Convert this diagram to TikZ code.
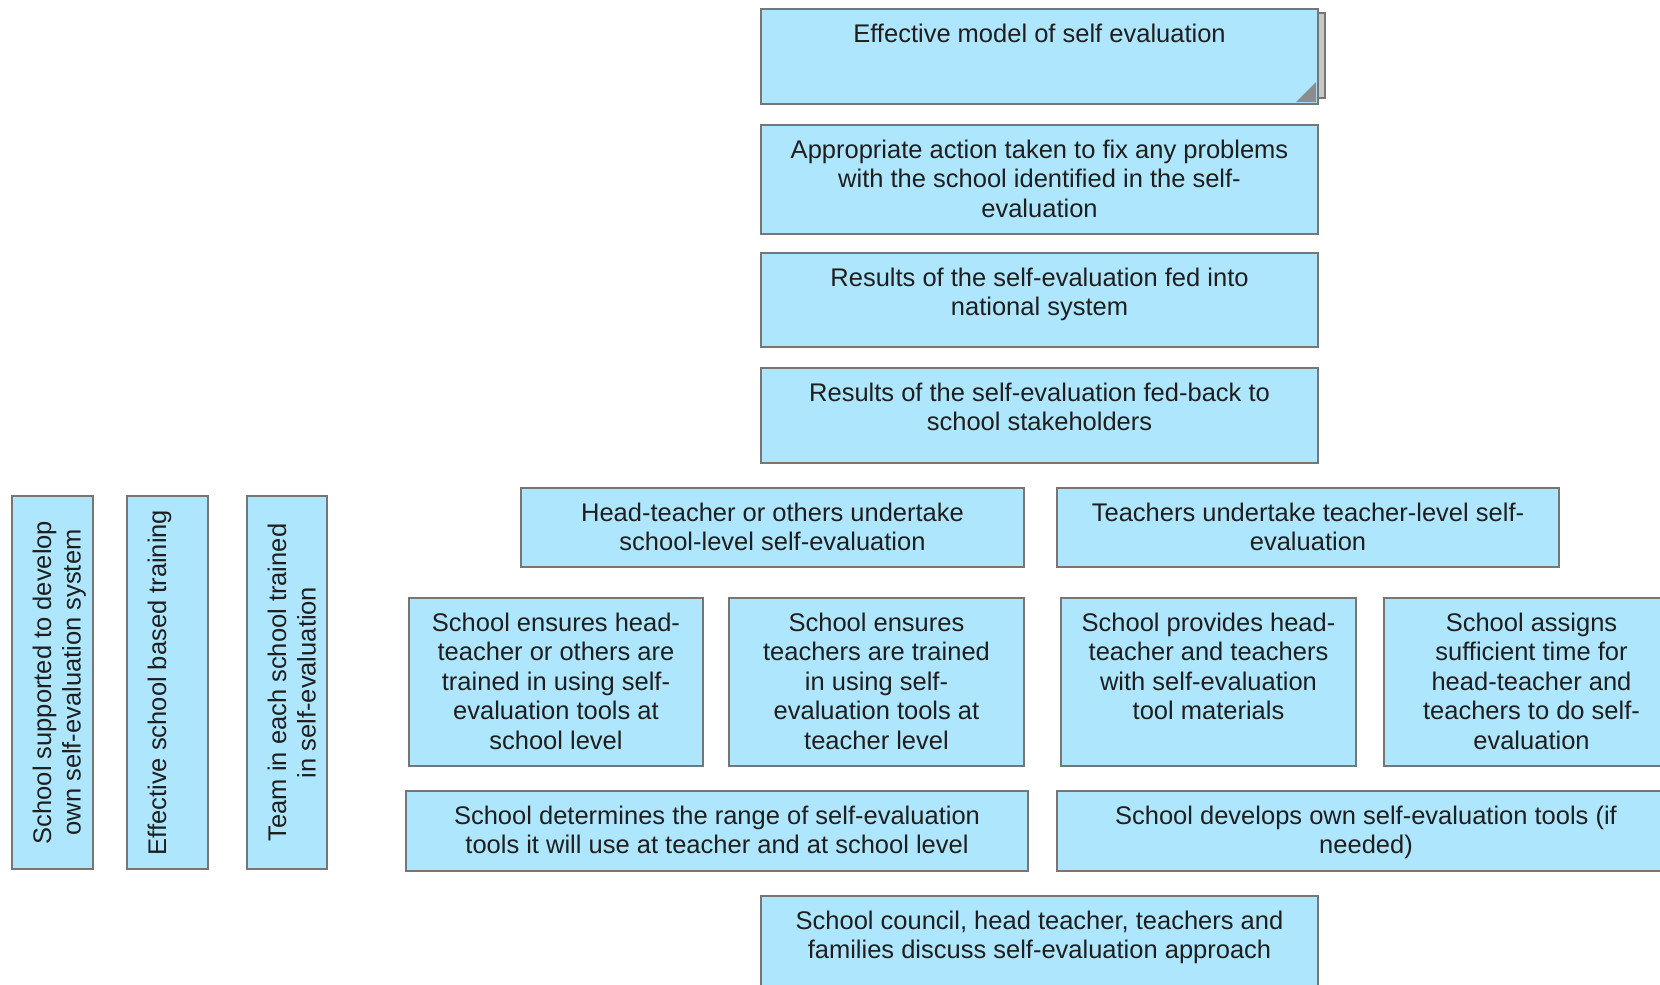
\documentclass[tikz,border=0pt]{standalone}
\usepackage{fontspec}
\setmainfont{Liberation Sans}
\definecolor{boxfill}{RGB}{174,230,254}
\definecolor{bordercol}{RGB}{118,118,118}
\definecolor{txtcol}{RGB}{30,30,30}
\definecolor{shadowfill}{RGB}{200,200,200}
\definecolor{foldcol}{RGB}{140,140,140}
\newcommand{\bxt}[4]{\parbox[t][#2][t]{#1}{\centering\rule{0pt}{#3}#4}}
\tikzset{
  box/.style={draw=bordercol, line width=2bp, fill=boxfill, inner sep=0pt,
    anchor=north west, text=txtcol, font=\fontsize{25.5bp}{29.6bp}\selectfont},
}
\begin{document}
\begin{tikzpicture}[x=1bp,y=-1bp]
\useasboundingbox (0,0) rectangle (1660,984);
\clip (0,0) rectangle (1660,984);
\fill[white] (0,0) rectangle (1660,984);
% shadow behind top box
\draw[draw=bordercol, line width=1.5bp, fill=shadowfill] (1300,13) rectangle (1325,98);
\node[box] (top) at (760,8) {\bxt{557bp}{95bp}{33bp}{Effective model of self evaluation}};
\fill[foldcol] (top.south east) ++(-3,-3) coordinate (f1) -- ++(-20,0) -- ++(20,-20) -- cycle;
\node[box] (act) at (760,124) {\bxt{557bp}{109bp}{33bp}{Appropriate action taken to fix any problems\\with the school identified in the self-\\evaluation}};
\node[box] (nat) at (760,252) {\bxt{557bp}{94bp}{33bp}{Results of the self-evaluation fed into\\national system}};
\node[box] (fb) at (760,367) {\bxt{557bp}{95bp}{33bp}{Results of the self-evaluation fed-back to\\school stakeholders}};
\node[box] (head) at (520,487) {\bxt{503bp}{79bp}{33bp}{Head-teacher or others undertake\\school-level self-evaluation}};
\node[box] (teach) at (1056,487) {\bxt{502bp}{79bp}{33bp}{Teachers undertake teacher-level self-\\evaluation}};
\node[box] (a) at (408,597) {\bxt{294bp}{168bp}{33bp}{School ensures head-\\teacher or others are\\trained in using self-\\evaluation tools at\\school level}};
\node[box] (b) at (728,597) {\bxt{295bp}{168bp}{33bp}{School ensures\\teachers are trained\\in using self-\\evaluation tools at\\teacher level}};
\node[box] (c) at (1060,597) {\bxt{295bp}{168bp}{33bp}{School provides head-\\teacher and teachers\\with self-evaluation\\tool materials}};
\node[box] (d) at (1383,597) {\bxt{295bp}{168bp}{33bp}{School assigns\\sufficient time for\\head-teacher and\\teachers to do self-\\evaluation}};
\node[box] (e) at (405,790) {\bxt{622bp}{80bp}{33bp}{School determines the range of self-evaluation\\tools it will use at teacher and at school level}};
\node[box] (f) at (1056,790) {\bxt{618bp}{80bp}{33bp}{School develops own self-evaluation tools (if\\needed)}};
\node[box] (council) at (760,895) {\bxt{557bp}{95bp}{33bp}{School council, head teacher, teachers and\\families discuss self-evaluation approach}};
\node[box, rotate=90] (v1) at (11,870) {\bxt{373bp}{81bp}{39bp}{School supported to develop\\own self-evaluation system}};
\node[box, rotate=90] (v2) at (126,870) {\bxt{373bp}{81bp}{39bp}{Effective school based training}};
\node[box, rotate=90] (v3) at (246,870) {\bxt{373bp}{80bp}{39bp}{Team in each school trained\\in self-evaluation}};
\end{tikzpicture}
\end{document}
